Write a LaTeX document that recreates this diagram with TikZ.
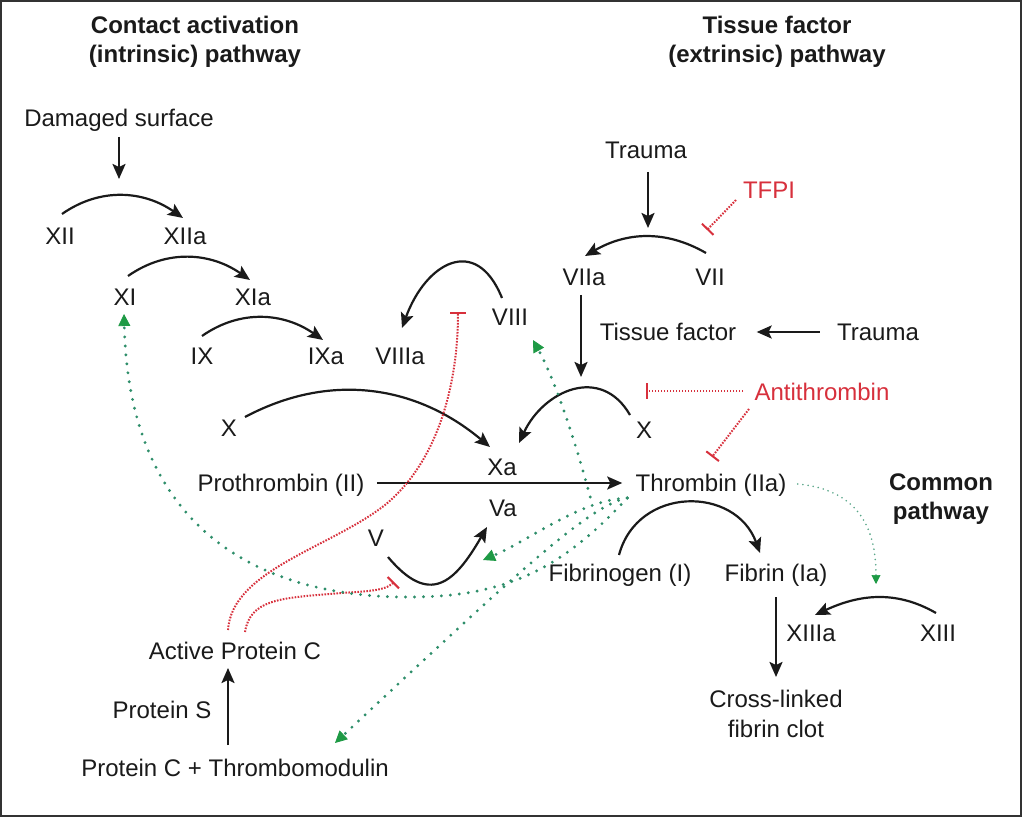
\documentclass[tikz,border=0pt]{standalone}
\usepackage{fontspec}
\setmainfont{Liberation Sans}
\usetikzlibrary{arrows.meta,calc}
\definecolor{inhred}{HTML}{D7303C}
\definecolor{dotgreen}{HTML}{2E8E6A}
\definecolor{tipgreen}{HTML}{1E9A45}
\definecolor{ink}{HTML}{1A1A1A}
\begin{document}
\begin{tikzpicture}[x=0.5pt,y=-0.5pt,
  lab/.style={inner sep=0pt, text height=8.6pt, text depth=0pt, font=\fontsize{12}{14.75}\selectfont, text=ink},
  lab2/.style={inner sep=0pt, align=center, font=\fontsize{12}{14.75}\selectfont, text=ink},
  title/.style={inner sep=0pt, align=center, font=\fontsize{12}{14.75}\selectfont\bfseries, text=ink},
  redlab/.style={lab, text=inhred},
  arr/.style={draw=ink, line width=1.1pt, -{Stealth[length=7.5pt,width=6.5pt,inset=1.5pt]}},
  inh/.style={draw=inhred, line width=1pt, dash pattern=on 0.8pt off 0.7pt, -{Bar[width=8pt,line width=1pt]}},
  act/.style={draw=dotgreen, line width=1.6pt, line cap=round, dash pattern=on 0pt off 4.5pt, -{Triangle[length=6pt,width=6pt,line width=0.4pt,color=tipgreen]}},
  actthin/.style={draw=dotgreen!80, line width=0.9pt, line cap=round, dash pattern=on 0pt off 2.6pt, -{Triangle[length=4.5pt,width=4.5pt,line width=0.3pt,color=tipgreen]}},
]
\useasboundingbox (0,0) rectangle (1024,818);
\draw[line width=1pt, draw=black!80] (1,1) rectangle (1021,816);

% titles
\node[title] (tcontact) at (195,42) {Contact activation\\(intrinsic) pathway};
\node[title] (ttissue) at (777,42) {Tissue factor\\(extrinsic) pathway};
\node[title] (tcommon) at (941,499) {Common\\pathway};

% intrinsic
\node[lab] (ds) at (119,118) {Damaged surface};
\node[lab] (xii) at (60,236) {XII};
\node[lab] (xiia) at (185,236) {XIIa};
\node[lab] (xi) at (125,297) {XI};
\node[lab] (xia) at (253,297) {XIa};
\node[lab] (ix) at (202,356) {IX};
\node[lab] (ixa) at (326,356) {IXa};
\node[lab] (viiia) at (400,356) {VIIIa};
\node[lab] (viii) at (510,317) {VIII};
\node[lab] (x1) at (229,428) {X};
\node[lab] (xa) at (502,467) {Xa};
\node[lab] (va) at (503,508) {Va};
\node[lab] (v) at (376,538) {V};
\node[lab] (proth) at (281,483) {Prothrombin (II)};
\node[lab] (thr) at (711,483) {Thrombin (IIa)};

% extrinsic
\node[lab] (trauma1) at (646,150) {Trauma};
\node[redlab] (tfpi) at (769,190) {TFPI};
\node[lab] (viia) at (584,277) {VIIa};
\node[lab] (vii) at (710,277) {VII};
\node[lab] (tf) at (668,332) {Tissue factor};
\node[lab] (trauma2) at (878,332) {Trauma};
\node[lab] (x2) at (644,430) {X};
\node[redlab] (at) at (822,392) {Antithrombin};

% common
\node[lab] (fg) at (620,573) {Fibrinogen (I)};
\node[lab] (fb) at (776,573) {Fibrin (Ia)};
\node[lab] (xiiia) at (811,633) {XIIIa};
\node[lab] (xiii) at (938,633) {XIII};
\node[lab2] (clot) at (776,714) {Cross-linked\\fibrin clot};

% protein C
\node[lab] (apc) at (235,651) {Active Protein C};
\node[lab] (ps) at (162,710) {Protein S};
\node[lab] (pctm) at (235,768) {Protein C + Thrombomodulin};

% free ends
\coordinate (dsend) at ($(ds)+(0,61)$);
\coordinate (tr1end) at ($(trauma1)+(2,78)$);
\coordinate (viiaend) at ($(viia)+(-3,100)$);
\coordinate (fbend) at ($(fb)+(0,104)$);
\coordinate (gsrc) at ($(thr.west)+(-8,15)$);
\coordinate (gsrc2) at ($(thr.west)+(-45,14)$);

% black arrows
\draw[arr] ($(ds)+(0,19)$) -- (dsend);
\draw[arr] ($(xii)+(2,-22)$) to[out=35,in=145] ($(xiia)+(-2,-18)$);
\draw[arr] ($(xi)+(3,-21)$) to[out=35,in=145] ($(xia)+(-3,-17)$);
\draw[arr] ($(ix)+(0,-20)$) to[out=35,in=145] ($(ixa)+(-3,-16)$);
\draw[arr] ($(viii)+(-8,-19)$) to[out=112,in=70,looseness=1.7] ($(viiia)+(2,-28)$);
\draw[arr] ($(x1)+(16,-11)$) to[out=28,in=140] ($(xa)+(-12,-20)$);
\draw[arr] ($(x2)+(-14,-15)$) to[out=120,in=65,looseness=1.3] ($(xa)+(17,-24)$);
\draw[arr] ($(vii)+(-4,-24)$) to[out=150,in=30] ($(viia)+(1,-21)$);
\draw[arr] ($(trauma1)+(2,22)$) -- (tr1end);
\draw[arr] ($(viia)+(-3,18)$) -- (viiaend);
\draw[arr] ($(trauma2.west)+(-17,0)$) -- ($(tf.east)+(20,0)$);
\draw[arr] ($(proth.east)+(12,0)$) -- ($(thr.west)+(-13,0)$);
\draw[arr] ($(v)+(12,19)$) to[out=-50,in=-120,looseness=1.6] ($(va)+(-16,19)$);
\draw[arr] ($(fg)+(-1,-18)$) to[out=75,in=110,looseness=1.3] ($(fb)+(-16,-20)$);
\draw[arr] ($(fb)+(0,24)$) -- (fbend);
\draw[arr] ($(xiii)+(-2,-20)$) to[out=150,in=25] ($(xiiia)+(4,-18)$);
\draw[arr] ($(pctm)+(-7,-23)$) -- ($(apc)+(-7,17)$);

% inhibitions
\draw[inh] ($(tfpi)+(-33,10)$) -- ($(tfpi)+(-62,40)$);
\draw[inh] ($(at.west)+(-11,-1)$) -- ($(at.west)+(-108,-1)$);
\draw[inh] ($(at)+(-73,17)$) -- ($(at)+(-110,65)$);
\draw[inh] ($(apc)+(-7,-21)$) .. controls (232,570) and (330,548) .. (385,505) .. controls (440,460) and (458,380) .. ($(viii)+(-52,-5)$);
\draw[inh] ($(apc)+(10,-19)$) .. controls (250,600) and (280,598) .. (330,594) .. controls (362,591) and (384,592) .. ($(v)+(18,44)$);

% activations
\draw[act] (gsrc) .. controls (570,560) and (520,590) .. (440,596) .. controls (300,605) and (130,560) .. ($(xi)+(-1,17)$);
\draw[act] (gsrc2) .. controls (575,440) and (555,380) .. ($(viii)+(23,23)$);
\draw[act] (gsrc) .. controls (580,500) and (530,540) .. ($(va)+(-20,52)$);
\draw[act] (gsrc) .. controls (590,505) and (520,570) .. ($(pctm)+(100,-25)$);
\draw[actthin] ($(thr.east)+(11,1)$) .. controls (860,490) and (876,530) .. ($(xiii)+(-62,-49)$);
\end{tikzpicture}
\end{document}
